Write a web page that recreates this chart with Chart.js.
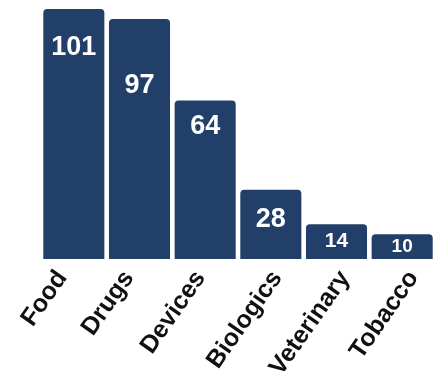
<!DOCTYPE html>
<html>
<head>
<meta charset="utf-8">
<script src="https://cdn.jsdelivr.net/npm/chart.js@4/dist/chart.umd.min.js"></script>
<style>
  html, body { margin: 0; padding: 0; background: #fff; }
  #wrap { width: 443px; height: 381px; }
</style>
</head>
<body>
<div id="wrap"><canvas id="chart"></canvas></div>
<script>
// FDA product areas and their counts
const categories = ['Food', 'Drugs', 'Devices', 'Biologics', 'Veterinary', 'Tobacco'];
const counts = [101, 97, 64, 28, 14, 10];

const barColor = '#223f6a';
const fontFamily = '"Liberation Sans", Arial, sans-serif';

// value labels drawn inside the top of each bar
const labelOffsets = [39, 67, 26, 30, 17, 13];
const labelSizes = [27, 27, 27, 27, 21, 19];

// category labels are spread a little wider than the bars
const catShift = [-24, -23, -17, -6, -4, -1];
const catSize = 25;
const catAngle = 55;

const valueLabels = {
  id: 'valueLabels',
  afterDatasetsDraw(chart) {
    const ctx = chart.ctx;
    const meta = chart.getDatasetMeta(0);
    ctx.save();
    ctx.fillStyle = '#fff';
    ctx.textAlign = 'center';
    ctx.textBaseline = 'middle';
    meta.data.forEach((bar, i) => {
      ctx.font = 'bold ' + labelSizes[i] + 'px ' + fontFamily;
      ctx.fillText(String(counts[i]), bar.x, bar.y + labelOffsets[i]);
    });
    ctx.restore();
  }
};

const categoryLabels = {
  id: 'categoryLabels',
  afterDraw(chart) {
    const ctx = chart.ctx;
    const xs = chart.scales.x;
    ctx.save();
    ctx.fillStyle = '#111';
    ctx.font = 'bold ' + catSize + 'px ' + fontFamily;
    ctx.textAlign = 'right';
    ctx.textBaseline = 'middle';
    categories.forEach((c, i) => {
      ctx.save();
      ctx.translate(xs.getPixelForTick(i) + catShift[i], xs.top + 6);
      ctx.rotate(-catAngle * Math.PI / 180);
      ctx.fillText(c, 0, catSize * 0.6);
      ctx.restore();
    });
    ctx.restore();
  }
};

new Chart(document.getElementById('chart'), {
  type: 'bar',
  data: {
    labels: categories,
    datasets: [{
      data: counts,
      backgroundColor: barColor,
      borderRadius: 4,
      borderSkipped: 'start',
      barPercentage: 0.93,
      categoryPercentage: 1
    }]
  },
  options: {
    responsive: true,
    maintainAspectRatio: false,
    animation: false,
    layout: { padding: { top: 9, left: 41, right: 8, bottom: 0 } },
    plugins: {
      legend: { display: false },
      tooltip: { enabled: false }
    },
    scales: {
      x: {
        grid: { display: false, drawTicks: false },
        border: { display: false },
        ticks: { display: false },
        afterFit(scale) { scale.height = 122; }
      },
      y: {
        display: false,
        min: 0,
        max: 101
      }
    }
  },
  plugins: [valueLabels, categoryLabels]
});
</script>
</body>
</html>
